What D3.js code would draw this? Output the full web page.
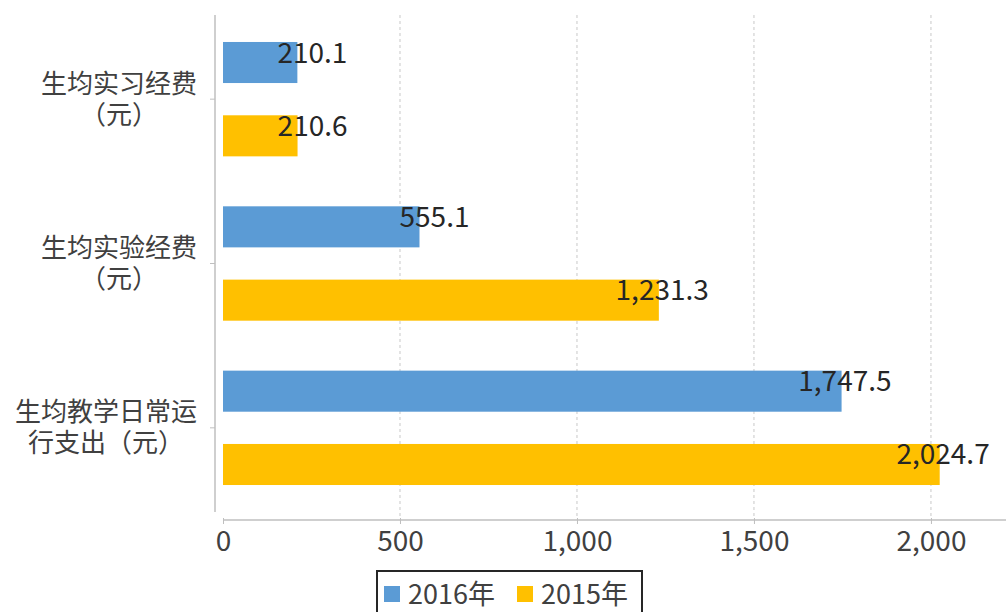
<!DOCTYPE html>
<html><head><meta charset="utf-8">
<script src="https://cdn.jsdelivr.net/npm/d3@7"></script>
<style>
html,body{margin:0;padding:0;background:#fff;}
text{font-family:"Noto Sans CJK SC","Noto Sans",sans-serif;}
text.cat{font-family:"Liberation Sans","Noto Sans CJK SC",sans-serif;}
</style></head>
<body>
<svg id="chart" width="1006" height="612"></svg>
<script>
const categories = [["生均实习经费","（元）"],["生均实验经费","（元）"],["生均教学日常运","行支出（元）"]];
const series = ["2016年","2015年"];
const values2016 = [210.1, 555.1, 1747.5];
const values2015 = [210.6, 1231.3, 2024.7];
const xTicks = [0, 500, 1000, 1500, 2000];
const colors = ["#5B9BD5", "#FFC000"];

const svg = d3.select("#chart");
const catIdx = d3.range(categories.length);
const x = d3.scaleLinear().domain([0, 2212]).range([223, 1006]);
const y0 = d3.scaleBand().domain(catIdx).range([17, 510]).paddingInner(0.304).paddingOuter(0.152);
const y1 = d3.scaleBand().domain(series).range([0, y0.bandwidth()]).paddingInner(0.44).paddingOuter(0);
const fmt = d3.format(",.1f");
const textColor = "#404040";

// gridlines
svg.append("g").selectAll("line").data(xTicks.slice(1)).join("line")
  .attr("x1", d => x(d)).attr("x2", d => x(d))
  .attr("y1", 15).attr("y2", 519)
  .attr("stroke", "#c8c8c8").attr("stroke-width", 1).attr("stroke-dasharray", "3,3");

// x axis
const xAxis = svg.append("g").attr("transform", "translate(0,520)")
  .call(d3.axisBottom(x).tickValues(xTicks).tickFormat(d3.format(",")).tickSize(4).tickSizeOuter(0));
xAxis.select(".domain").attr("stroke", "#bfbfbf").attr("stroke-width", 1.5).attr("d", "M223,0H1006");
xAxis.selectAll(".tick line").attr("stroke", "#bfbfbf").attr("y1", -2);
xAxis.selectAll(".tick text").attr("fill", textColor).attr("font-size", 28).attr("y", 11).attr("dy", "0.71em");

// y axis line
const yAxis = svg.append("g").attr("transform", "translate(215,0)")
  .call(d3.axisLeft(y0).tickSize(5).tickSizeOuter(0).tickFormat(""));
yAxis.select(".domain").attr("stroke", "#bfbfbf").attr("stroke-width", 1.5).attr("d", "M0,15V512");
yAxis.selectAll(".tick line").attr("stroke", "#bfbfbf");

// category labels
const labG = svg.append("g");
catIdx.forEach(i => {
  const cy = y0(i) + y0.bandwidth() / 2;
  const lines = categories[i];
  const ts = lines.map((s, k) => labG.append("text").attr("class", "cat").text(s)
    .attr("font-size", 26).attr("fill", textColor).attr("text-anchor", "middle")
    .attr("y", cy + (k - (lines.length - 1) / 2) * 31 + 9));
  const maxW = d3.max(ts, n => n.node().getComputedTextLength());
  ts.forEach(n => n.attr("x", 197 - maxW / 2));
});

// bars
const data = catIdx.map(i => [values2016[i], values2015[i]]);
const groups = svg.append("g").selectAll("g").data(data).join("g")
  .attr("transform", (d, i) => `translate(0,${y0(i)})`);
groups.selectAll("rect").data(d => d.map((v, j) => ({v, s: series[j], j}))).join("rect")
  .attr("x", x(0)).attr("y", d => y1(d.s))
  .attr("width", d => x(d.v) - x(0)).attr("height", y1.bandwidth())
  .attr("fill", d => colors[d.j]);
groups.selectAll("text").data(d => d.map((v, j) => ({v, s: series[j], j}))).join("text")
  .attr("x", d => x(d.v) + 50).attr("y", d => y1(d.s) + y1.bandwidth() / 2)
  .attr("text-anchor", "end").attr("font-size", 28).attr("fill", "#262626")
  .text(d => fmt(d.v));

// legend
const lg = svg.append("g");
lg.append("rect").attr("x", 377).attr("y", 571).attr("width", 265).attr("height", 50)
  .attr("fill", "#fff").attr("stroke", "#262626").attr("stroke-width", 2);
const lx = [384, 517];
series.forEach((s, j) => {
  lg.append("rect").attr("x", lx[j]).attr("y", 586).attr("width", 16).attr("height", 16).attr("fill", colors[j]);
  lg.append("text").attr("x", lx[j] + 24).attr("y", 604).attr("font-size", 27).attr("fill", textColor).text(s);
});
</script>
</body></html>
